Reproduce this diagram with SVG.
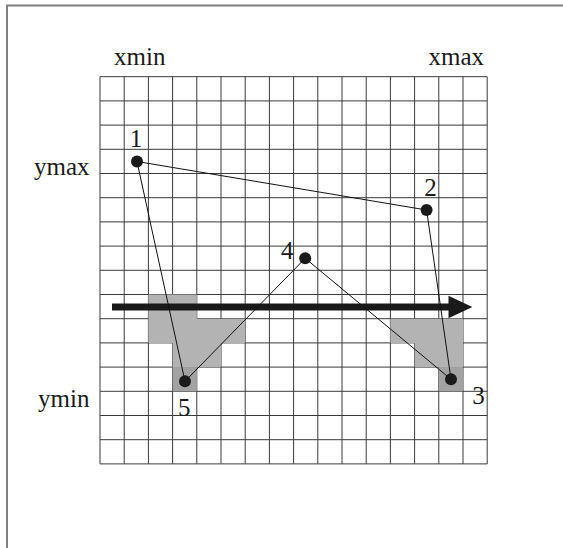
<svg xmlns="http://www.w3.org/2000/svg" width="563" height="548" viewBox="0 0 563 548">
<style>
.frame{fill:none;stroke:#808080;stroke-width:2}
.grid{fill:none;stroke:#3a3a3a;stroke-width:1}
.shade{fill:#b3b3b3;stroke:none}
.shade2{fill:#a2a2a2;stroke:none}
.edge{fill:none;stroke:#111;stroke-width:1}
.pt{fill:#1a1a1a}
.lbl{font-size:25px;fill:#1a1a1a}
</style>
<rect width="563" height="548" fill="#fff"/>
<path class="frame" d="M7,700 V5.5 H700"/>
<g id="grid">
<path class="grid" d="M100,76.7V463.9M124.2,76.7V463.9M148.4,76.7V463.9M172.6,76.7V463.9M196.8,76.7V463.9M221,76.7V463.9M245.2,76.7V463.9M269.4,76.7V463.9M293.6,76.7V463.9M317.8,76.7V463.9M342,76.7V463.9M366.2,76.7V463.9M390.4,76.7V463.9M414.6,76.7V463.9M438.8,76.7V463.9M463,76.7V463.9M487.2,76.7V463.9
M100,76.7H487.2M100,100.9H487.2M100,125.1H487.2M100,149.3H487.2M100,173.5H487.2M100,197.7H487.2M100,221.9H487.2M100,246.1H487.2M100,270.3H487.2M100,294.5H487.2M100,318.7H487.2M100,342.9H487.2M100,367.1H487.2M100,391.3H487.2M100,415.5H487.2M100,439.7H487.2M100,463.9H487.2"/>
</g>
<g id="shade-left">
<polygon class="shade" points="148.4,294.5 196.8,294.5 196.8,318.7 245.2,318.7 245.2,342.9 221,342.9 221,367.1 172.6,367.1 172.6,342.9 148.4,342.9"/>
<rect class="shade2" x="172.6" y="367.1" width="24.2" height="24.2"/>
</g>
<g id="shade-right">
<polygon class="shade" points="390.4,318.7 463,318.7 463,367.1 414.6,367.1 414.6,342.9 390.4,342.9"/>
<rect class="shade2" x="438.8" y="367.1" width="24.2" height="24.2"/>
</g>
<g id="scanline">
<line x1="112" y1="307" x2="449" y2="307" stroke="#1a1a1a" stroke-width="7"/>
<path d="M448.5,295.7 L472.3,307 L448.5,318.3 Z" fill="#1a1a1a"/>
</g>
<g id="connectors">
<path class="edge" d="M137,161.5 L426.6,210 L451,379.3 L305.2,258.3 L185,381.3 Z"/>
</g>
<g font-family="Liberation Serif, DejaVu Serif, serif">
<g id="p1"><circle class="pt" cx="137" cy="161.5" r="6"/><text class="lbl" x="136" y="147" text-anchor="middle">1</text></g>
<g id="p2"><circle class="pt" cx="426.6" cy="210" r="6"/><text class="lbl" x="430.5" y="195.5" text-anchor="middle">2</text></g>
<g id="p3"><circle class="pt" cx="451" cy="379.3" r="6"/><text class="lbl" x="478.4" y="404.3" text-anchor="middle">3</text></g>
<g id="p4"><circle class="pt" cx="305.2" cy="258.3" r="6"/><text class="lbl" x="287.3" y="259" text-anchor="middle">4</text></g>
<g id="p5"><circle class="pt" cx="185" cy="381.3" r="6"/><text class="lbl" x="184.2" y="416" text-anchor="middle">5</text></g>
<g id="axis-labels">
<text class="lbl" x="114" y="64.6">xmin</text>
<text class="lbl" x="484" y="64.6" text-anchor="end">xmax</text>
<text class="lbl" x="89.5" y="175" text-anchor="end">ymax</text>
<text class="lbl" x="89.5" y="406.6" text-anchor="end">ymin</text>
</g>
</g>
</svg>
